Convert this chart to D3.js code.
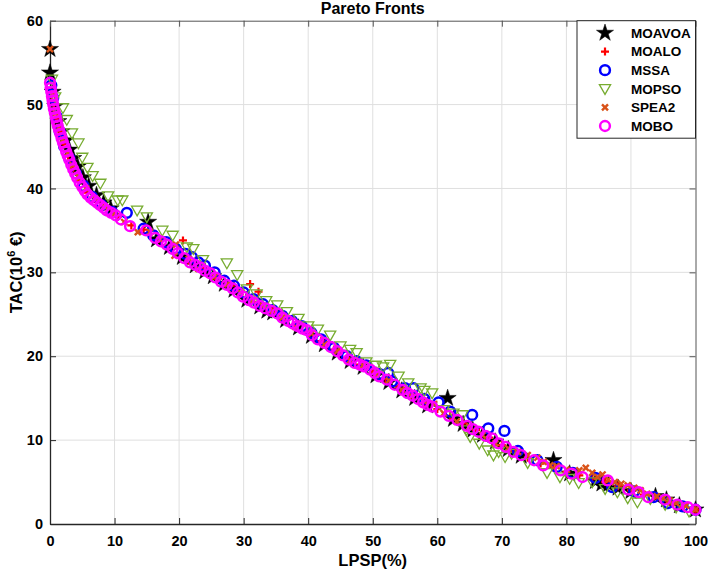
<!DOCTYPE html>
<html><head><meta charset="utf-8">
<script src="https://cdn.jsdelivr.net/npm/d3@7"></script>
<style>body{margin:0;background:#fff;} svg{display:block;font-family:"Liberation Sans",Arial,sans-serif;}</style>
</head><body><svg id="c" width="708" height="572"></svg>
<script>
// ---------- data ----------
const xTicks = [0,10,20,30,40,50,60,70,80,90,100];
const yTicks = [0,10,20,30,40,50,60];
const seriesNames = ["MOAVOA","MOALO","MSSA","MOPSO","SPEA2","MOBO"];
const seriesColors = ["#000000","#FF0000","#0000FF","#77AC30","#D95319","#FF00FF"];
const titleText = "Pareto Fronts";
const xLabel = "LPSP(%)";

const MOAVOA = [[0,56.6],[0,53.8],[0.4,51.5],[0.8,49.8],[1.3,48.0],[1.8,46.8],[2.4,45.7],[3.0,44.6],[3.6,43.6],[4.3,42.6],[5.1,41.3],[6.0,40.3],[7.2,39.2],[8.3,38.3],[9.4,37.6],[15.2,36.0],[16.5,33.9],[18.5,33.0],[20.5,31.8],[22.5,30.8],[24.0,30.1],[25.3,29.5],[27.0,28.6],[28.5,27.9],[30.5,26.7],[32.5,25.9],[33.6,25.4],[34.5,25.2],[36.5,24.3],[38.5,23.4],[40.5,22.4],[42.5,21.4],[44.5,20.4],[46.5,19.4],[48.5,18.7],[50.5,17.7],[52.5,16.9],[54.5,15.9],[56.5,15.0],[58.5,14.1],[61.6,15.0],[62.5,12.5],[64.0,11.9],[65.5,11.2],[67.0,10.6],[69.0,9.8],[71.0,8.9],[73.0,8.1],[78.0,7.6],[80.5,6.0],[84.5,5.1],[85.5,4.8],[86.5,4.7],[88.0,4.3],[90.0,3.9],[93.8,3.3],[95.5,2.9],[97.5,2.2],[100,1.7]];

const MOALO = [[0.3,51.0],[0.6,49.5],[1.0,48.3],[1.5,46.8],[2.1,45.3],[2.8,43.9],[3.6,42.4],[4.6,40.9],[5.8,39.5],[7.2,38.4],[8.8,37.5],[10.5,36.6],[12.6,35.6],[14.5,35.1],[17.0,34.0],[20.6,33.8],[21.5,31.4],[23.5,30.5],[26.0,29.2],[28.0,28.4],[31.0,28.6],[32.3,27.7],[34.0,25.7],[36.0,24.6],[38.0,23.7],[40.0,22.9],[42.0,21.8],[44.0,20.8],[46.0,19.8],[48.0,19.0],[50.0,18.2],[52.0,17.3],[54.0,16.4],[56.0,15.4],[58.0,14.5],[60.0,13.7],[62.0,12.9],[64.0,12.0],[66.0,11.2],[68.0,10.3],[70.0,9.4],[72.0,8.6],[74.0,7.9],[76.0,7.2],[78.0,6.7],[80.0,6.2],[82.0,5.8],[84.0,5.4],[86.0,5.0],[88.0,4.5],[90.0,4.0],[92.0,3.5],[94.0,3.1],[96.0,2.6],[98.0,2.1],[100,1.7]];

const MSSA = [[0.2,52.3],[0.5,50.8],[1.0,48.6],[1.5,46.8],[2.2,45.0],[3.0,43.6],[4.0,41.8],[5.2,40.3],[6.5,39.0],[8.0,38.0],[9.6,37.2],[11.9,37.1],[14.5,35.2],[16.0,34.4],[18.0,33.6],[19.5,32.8],[21.0,32.2],[22.0,31.8],[23.0,31.2],[24.0,30.8],[25.5,30.0],[27.0,29.0],[28.5,28.4],[30.0,27.6],[31.5,26.8],[33.0,26.2],[34.5,25.5],[36.0,24.8],[37.5,24.2],[39.0,23.6],[40.5,22.8],[42.0,22.0],[44.0,21.0],[46.0,20.0],[47.5,19.4],[49.0,18.9],[51.0,17.9],[52.4,18.0],[53.0,17.0],[55.0,16.2],[56.3,16.2],[58.0,14.9],[60.2,14.5],[62.0,13.4],[65.4,13.0],[67.9,11.4],[70.4,11.1],[72.5,8.7],[75.5,7.6],[78.5,6.8],[81.0,6.1],[84.5,5.5],[87.1,4.4],[90.5,3.9],[93.5,3.2],[95.7,2.5],[98.0,2.1],[100,1.7]];

const MOPSO = [[0.3,53.0],[0.8,50.9],[2.0,49.6],[2.6,48.2],[3.4,46.6],[4.4,45.4],[5.0,43.7],[5.8,42.5],[6.6,41.5],[7.8,40.6],[9.0,39.1],[10.5,38.6],[11.2,38.6],[13.5,37.4],[15.0,36.6],[17.4,35.0],[19.0,34.4],[21.2,33.0],[22.2,32.8],[23.7,31.5],[27.4,31.1],[29.0,29.7],[30.5,28.0],[32.0,27.4],[33.5,26.6],[35.2,26.1],[36.7,25.3],[38.5,24.5],[40.0,23.6],[41.5,23.2],[43.4,22.5],[45.0,21.2],[46.5,20.8],[47.5,20.4],[49.0,19.3],[50.5,18.9],[51.6,18.7],[52.7,19.0],[54.0,17.6],[55.5,16.8],[57.4,16.2],[58.0,15.9],[59.2,15.6],[61.0,13.6],[62.5,13.2],[63.9,13.0],[64.5,11.2],[65.1,10.4],[66.5,9.6],[67.8,8.8],[68.7,8.2],[69.5,8.6],[70.5,8.0],[71.5,8.4],[74.0,7.3],[77.0,6.1],[79.0,5.6],[80.5,5.4],[81.9,4.9],[84.0,5.0],[86.0,4.2],[87.9,3.8],[89.5,3.1],[91.0,2.6],[93.0,3.0],[95.3,2.3],[97.0,2.0],[99.0,1.5]];

const SPEA2 = [[0,56.6],[0.4,51.2],[0.9,49.0],[1.4,47.3],[2.0,45.8],[2.7,44.2],[3.5,42.8],[4.5,41.3],[5.6,40.0],[7.0,38.8],[8.5,37.8],[10.0,37.0],[11.5,36.0],[13.6,34.8],[15.5,34.8],[17.0,33.9],[19.3,32.0],[19.5,33.3],[21.5,31.6],[23.0,30.4],[25.5,29.5],[27.5,28.6],[29.5,27.6],[31.5,26.7],[33.0,26.0],[34.5,25.4],[36.0,24.6],[38.0,23.5],[40.5,22.7],[42.5,21.4],[44.5,20.6],[46.5,19.5],[48.5,18.9],[50.5,17.8],[52.5,17.1],[54.5,16.0],[56.0,15.2],[58.0,14.6],[59.5,14.3],[61.0,13.2],[63.0,12.2],[65.0,11.6],[67.0,10.6],[69.0,9.6],[71.0,9.0],[72.5,8.6],[74.0,8.2],[75.5,7.9],[76.5,7.4],[77.5,7.0],[78.5,6.9],[80.0,6.5],[82.0,6.4],[83.0,6.7],[84.0,6.1],[84.8,5.6],[85.6,5.9],[86.5,5.3],[87.5,5.0],[88.5,4.8],[89.5,4.6],[90.5,4.3],[91.5,4.0],[92.5,3.6],[94.0,3.3],[95.0,3.1],[96.0,2.8],[97.0,2.5],[98.5,2.2],[100,1.7]];

const MOBO = [[0,52.6],[0.1,52.0],[0.2,51.5],[0.3,51.0],[0.4,50.5],[0.5,50.0],[0.6,49.5],[0.75,49.0],[0.9,48.5],[1.05,48.0],[1.2,47.5],[1.4,47.0],[1.6,46.5],[1.8,46.0],[2.0,45.5],[2.25,45.0],[2.5,44.4],[2.75,43.9],[3.0,43.4],[3.3,42.8],[3.6,42.3],[3.9,41.8],[4.2,41.3],[4.6,40.7],[5.0,40.2],[5.4,39.7],[5.8,39.3],[6.3,38.9],[6.8,38.6],[7.3,38.3],[7.8,38.0],[8.3,37.7],[8.8,37.4],[9.5,37.1],[10.2,36.8],[11.0,36.3],[12.4,35.5],[14.9,35.0],[16.3,34.1],[17.2,33.7],[18.1,33.3],[19.0,32.8],[19.8,32.3],[20.8,31.7],[21.7,31.2],[22.5,30.9],[23.3,30.6],[24.0,30.2],[24.8,29.9],[25.6,29.4],[26.5,28.9],[27.4,28.5],[28.3,28.1],[29.1,27.6],[29.9,27.1],[30.8,26.7],[31.6,26.4],[32.5,26.0],[33.4,25.7],[34.3,25.4],[35.2,25.1],[36.0,24.6],[36.9,24.2],[37.6,23.9],[38.4,23.6],[39.1,23.3],[39.8,23.1],[40.6,22.5],[41.5,22.0],[42.5,21.6],[43.5,21.1],[44.5,20.6],[45.4,20.1],[46.3,19.6],[47.2,19.2],[48.0,19.0],[48.6,18.8],[49.6,18.4],[50.3,18.0],[51.0,17.6],[52.2,17.2],[53.4,16.6],[54.6,16.0],[55.4,15.6],[56.2,15.3],[57.0,14.9],[57.8,14.5],[58.5,14.2],[59.2,14.0],[60.5,13.4],[61.8,12.9],[63.1,12.4],[64.6,11.7],[65.5,11.3],[66.4,11.0],[67.5,10.5],[68.5,10.2],[69.5,9.6],[70.6,9.2],[71.8,8.6],[73.0,8.2],[75.0,7.6],[76.4,7.0],[79.1,6.4],[80.8,6.0],[82.5,5.6],[86.4,5.2],[89.6,4.1],[91.2,3.8],[92.7,3.2],[95.3,2.9],[97.2,2.3],[98.8,2.0],[100,1.7]];

const seriesData = [MOAVOA, MOALO, MSSA, MOPSO, SPEA2, MOBO];

// ---------- layout ----------
const svg = d3.select("#c");
const L = 50, R = 695.5, T = 20.7, B = 524;
const x = d3.scaleLinear().domain([0,100]).range([L,R]);
const y = d3.scaleLinear().domain([0,60]).range([B,T]);
const axisCol = "#262626";

// grid
const g = svg.append("g");
g.selectAll(".gx").data(xTicks.slice(1,-1)).enter().append("line")
  .attr("x1",d=>x(d)).attr("x2",d=>x(d)).attr("y1",T).attr("y2",B)
  .attr("stroke","#dfdfdf").attr("stroke-width",1);
g.selectAll(".gy").data(yTicks.slice(1,-1)).enter().append("line")
  .attr("x1",L).attr("x2",R).attr("y1",d=>y(d)).attr("y2",d=>y(d))
  .attr("stroke","#dfdfdf").attr("stroke-width",1);

// axes with d3 axes (inward ticks)
const tk = 6;
svg.append("g").attr("transform",`translate(0,${B})`)
  .call(d3.axisBottom(x).tickValues(xTicks).tickSizeInner(-tk).tickSizeOuter(0).tickPadding(12).tickFormat(d3.format("d")))
  .call(a=>{a.select(".domain").attr("stroke",axisCol).attr("stroke-width",1.3);
    a.selectAll("line").attr("stroke",axisCol);
    a.selectAll("text").attr("font-size","14.5px").attr("font-weight","bold").attr("fill","#000").attr("font-family","Liberation Sans, Arial, sans-serif");});
svg.append("g").attr("transform",`translate(${L},0)`)
  .call(d3.axisLeft(y).tickValues(yTicks).tickSizeInner(-tk).tickSizeOuter(0).tickPadding(7).tickFormat(d3.format("d")))
  .call(a=>{a.select(".domain").attr("stroke",axisCol).attr("stroke-width",1.3);
    a.selectAll("line").attr("stroke",axisCol);
    a.selectAll("text").attr("font-size","14.5px").attr("font-weight","bold").attr("fill","#000").attr("font-family","Liberation Sans, Arial, sans-serif");});
svg.append("g").attr("transform",`translate(0,${T})`)
  .call(d3.axisTop(x).tickValues(xTicks).tickSizeInner(-tk).tickSizeOuter(0).tickFormat(""))
  .call(a=>{a.select(".domain").attr("stroke","#555").attr("stroke-width",1);a.selectAll("line").attr("stroke","#555");});
svg.append("g").attr("transform",`translate(${R},0)`)
  .call(d3.axisRight(y).tickValues(yTicks).tickSizeInner(-tk).tickSizeOuter(0).tickFormat(""))
  .call(a=>{a.select(".domain").attr("stroke","#555").attr("stroke-width",1);a.selectAll("line").attr("stroke","#555");});

// ---------- markers ----------
function starPath(R0){
  const r0 = R0*0.382; let p="";
  for(let i=0;i<10;i++){const rr=i%2?r0:R0; const a=-Math.PI/2+i*Math.PI/5;
    p+=(i?"L":"M")+(rr*Math.cos(a)).toFixed(2)+","+(rr*Math.sin(a)).toFixed(2);}
  return p+"Z";
}
function drawMarker(sel, i){
  const c = seriesColors[i];
  if(i===0) sel.append("path").attr("d",starPath(9)).attr("fill",c).attr("stroke",c).attr("stroke-width",0.5);
  else if(i===1) sel.append("path").attr("d","M-4,0H4M0,-4V4").attr("stroke",c).attr("stroke-width",2.2).attr("fill","none");
  else if(i===2||i===5) sel.append("circle").attr("r",4.9).attr("fill","none").attr("stroke",c).attr("stroke-width",2.5);
  else if(i===3) sel.append("path").attr("d","M-5.6,-4.2L5.6,-4.2L0,5.6Z").attr("fill","none").attr("stroke",c).attr("stroke-width",1.3);
  else if(i===4) sel.append("path").attr("d","M-3,-3L3,3M-3,3L3,-3").attr("stroke",c).attr("stroke-width",2.4).attr("fill","none");
}
seriesData.forEach((arr,i)=>{
  const grp = svg.append("g");
  grp.selectAll("g").data(arr).enter().append("g")
    .attr("transform",d=>`translate(${x(d[0])},${y(d[1])})`)
    .each(function(){drawMarker(d3.select(this),i);});
});

// ---------- legend ----------
const lg = svg.append("g");
lg.append("rect").attr("x",577).attr("y",T).attr("width",R-577).attr("height",117.5)
  .attr("fill","#fff").attr("stroke",axisCol).attr("stroke-width",1);
seriesNames.forEach((n,i)=>{
  const yy = 33 + i*18.6;
  const m = lg.append("g").attr("transform",`translate(605,${yy})`);
  drawMarker(m,i);
  lg.append("text").attr("x",631).attr("y",yy).attr("dy","0.36em")
    .attr("font-size","13.5px").attr("font-weight","bold").text(n);
});

// ---------- titles ----------
svg.append("text").attr("x",(L+R)/2).attr("y",13.5).attr("text-anchor","middle")
  .attr("font-size","16px").attr("font-weight","bold").text(titleText);
svg.append("text").attr("x",(L+R)/2).attr("y",566).attr("text-anchor","middle")
  .attr("font-size","16.5px").attr("font-weight","bold").text(xLabel);
const yl = svg.append("text").attr("transform",`translate(22,${(T+B)/2}) rotate(-90)`)
  .attr("text-anchor","middle").attr("font-size","16.5px").attr("font-weight","bold");
yl.append("tspan").text("TAC(10");
yl.append("tspan").attr("font-size","11px").attr("dy","-7").text("6");
yl.append("tspan").attr("dy","7").text(" €)");
</script></body></html>
